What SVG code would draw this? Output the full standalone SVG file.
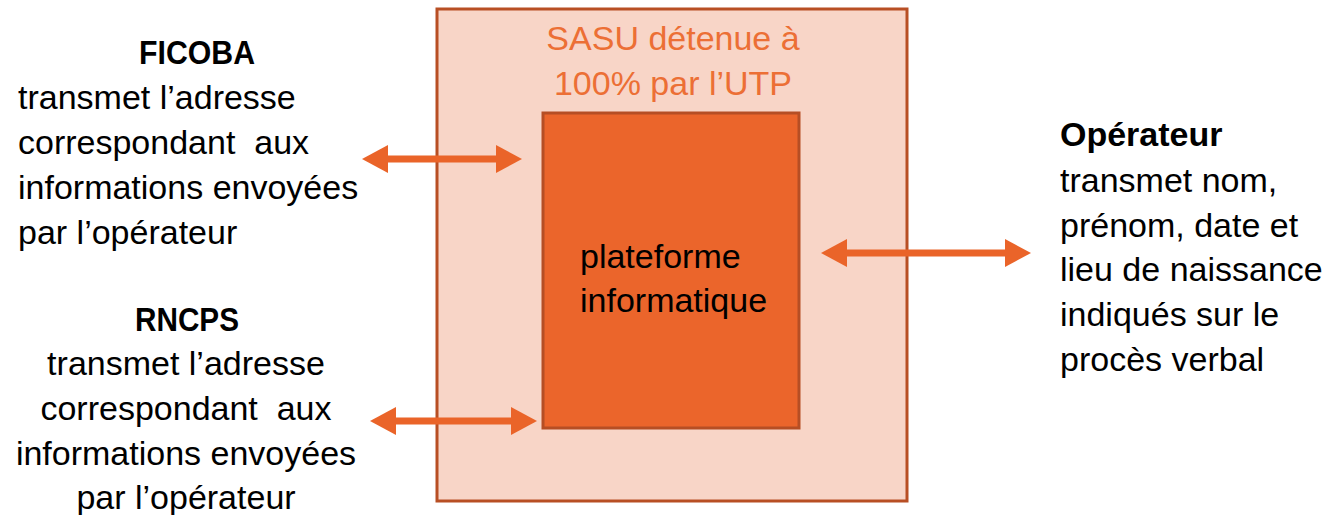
<svg xmlns="http://www.w3.org/2000/svg" width="1323" height="515" viewBox="0 0 1323 515">
<defs>
<style>
.t{font-family:"Liberation Sans",Arial,sans-serif;font-size:34px;fill:#000;white-space:pre}
.b{font-weight:bold}
.o{fill:#EC6F35}
.c{text-anchor:middle}
.arr{stroke:#EA6429;stroke-width:7;fill:none}
</style>
<marker id="ah" viewBox="0 0 26 28" markerWidth="26" markerHeight="28" refX="13" refY="14" orient="auto-start-reverse" markerUnits="userSpaceOnUse">
<path d="M0,0 L26,14 L0,28 z" fill="#EA6429"/>
</marker>
</defs>
<rect width="1323" height="515" fill="#fff"/>
<g id="sasu">
<rect x="437" y="9" width="470" height="492" fill="#F8D5C7" stroke="#B84F24" stroke-width="3"/>
<text class="t o c" x="673" y="50">SASU détenue à</text>
<text class="t o c" x="673" y="95">100% par l’UTP</text>
</g>
<g id="plateforme">
<rect x="543" y="113" width="256" height="315" fill="#EB652B" stroke="#B64E24" stroke-width="3"/>
<text class="t" x="580" y="268">plateforme</text>
<text class="t" x="580" y="312">informatique</text>
</g>
<g id="ficoba">
<text class="t b c" x="197" y="64" textLength="116" lengthAdjust="spacingAndGlyphs">FICOBA</text>
<text class="t" x="18" y="109">transmet l’adresse</text>
<text class="t" x="18" y="154" xml:space="preserve">correspondant  aux</text>
<text class="t" x="18" y="199">informations envoyées</text>
<text class="t" x="18" y="244">par l’opérateur</text>
</g>
<g id="rncps">
<text class="t b c" x="187" y="331" textLength="104" lengthAdjust="spacingAndGlyphs">RNCPS</text>
<text class="t c" x="186" y="375">transmet l’adresse</text>
<text class="t c" x="186" y="420" xml:space="preserve">correspondant  aux</text>
<text class="t c" x="186" y="465">informations envoyées</text>
<text class="t c" x="186" y="509">par l’opérateur</text>
</g>
<g id="operateur">
<text class="t b" x="1060" y="146">Opérateur</text>
<text class="t" x="1060" y="192">transmet nom,</text>
<text class="t" x="1060" y="237">prénom, date et</text>
<text class="t" x="1060" y="281">lieu de naissance</text>
<text class="t" x="1060" y="326">indiqués sur le</text>
<text class="t" x="1060" y="371">procès verbal</text>
</g>
<g id="connectors">
<line class="arr" x1="375" y1="159" x2="509" y2="159" marker-start="url(#ah)" marker-end="url(#ah)"/>
<line class="arr" x1="383" y1="421" x2="524" y2="421" marker-start="url(#ah)" marker-end="url(#ah)"/>
<line class="arr" x1="834" y1="253" x2="1018" y2="253" marker-start="url(#ah)" marker-end="url(#ah)"/>
</g>
</svg>
